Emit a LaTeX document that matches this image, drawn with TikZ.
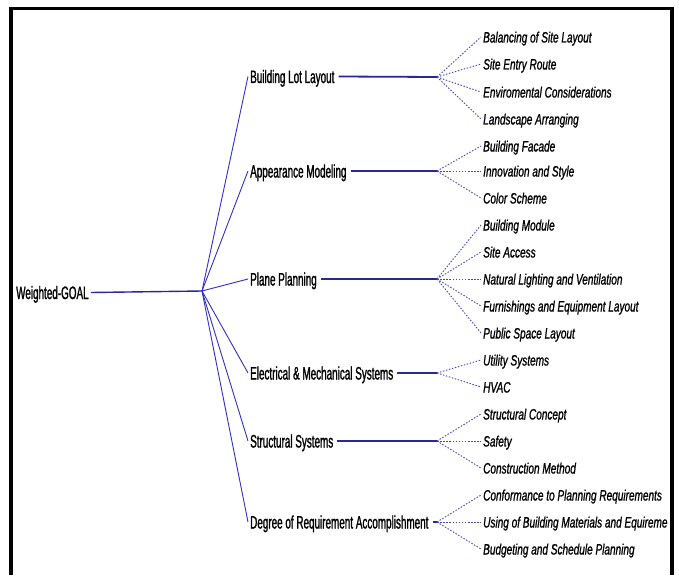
\documentclass[tikz,border=0pt]{standalone}
\usepackage{fontspec}
\newfontfamily\midfont[FakeStretch=0.55,FakeBold=1.2]{Liberation Sans}
\newfontfamily\leaffont[FakeStretch=0.67,FakeBold=1.0]{Liberation Sans}
\definecolor{hubblue}{RGB}{48,48,200}
\definecolor{barblue}{RGB}{40,40,150}
\definecolor{dotblue}{RGB}{70,70,190}
\begin{document}
\begin{tikzpicture}[x=1pt,y=-1pt,
  goalnode/.style={anchor=west,inner xsep=2pt,inner ysep=0pt,text height=13pt,text depth=0pt,font=\midfont\fontsize{18}{18}\selectfont},
  midnode/.style={anchor=west,inner xsep=2pt,inner ysep=0pt,text height=13pt,text depth=0pt,font=\midfont\fontsize{18}{18}\selectfont},
  leafnode/.style={anchor=west,inner xsep=2pt,inner ysep=0pt,text height=11pt,text depth=0pt,font=\leaffont\itshape\fontsize{15}{15}\selectfont},
  hubline/.style={draw=hubblue,line width=0.9pt},
  barline/.style={draw=barblue,line width=1.8pt},
  dotline/.style={draw=dotblue,line width=0.9pt,dash pattern=on 1.5pt off 1.6pt}]
\useasboundingbox (0,0) rectangle (679,575);
\fill[white] (0,0) rectangle (679,575);
% nodes
\node[goalnode] (goal) at (14,292.5) {Weighted-GOAL};
\coordinate (hub) at (202,291);
\node[midnode] (m1) at (248,76.5) {Building Lot Layout};
\node[midnode] (m2) at (248,171) {Appearance Modeling};
\node[midnode] (m3) at (248,279) {Plane Planning};
\node[midnode] (m4) at (248,373) {Electrical \& Mechanical Systems};
\node[midnode] (m5) at (248,441) {Structural Systems};
\node[midnode] (m6) at (248,522) {Degree of Requirement Accomplishment};
\coordinate (s1) at (437,77);
\coordinate (s2) at (437,171);
\coordinate (s3) at (437,279);
\coordinate (s4) at (437,373);
\coordinate (s5) at (437,441);
\coordinate (s6) at (437,522);
% leaves
\node[leafnode] (l11) at (481,37) {Balancing of Site Layout};
\node[leafnode] (l12) at (481,64) {Site Entry Route};
\node[leafnode] (l13) at (481,92) {Enviromental Considerations};
\node[leafnode] (l14) at (481,119) {Landscape Arranging};
\node[leafnode] (l21) at (481,146) {Building Facade};
\node[leafnode] (l22) at (481,171) {Innovation and Style};
\node[leafnode] (l23) at (481,198) {Color Scheme};
\node[leafnode] (l31) at (481,225) {Building Module};
\node[leafnode] (l32) at (481,252) {Site Access};
\node[leafnode] (l33) at (481,279) {Natural Lighting and Ventilation};
\node[leafnode] (l34) at (481,306) {Furnishings and Equipment Layout};
\node[leafnode] (l35) at (481,333) {Public Space Layout};
\node[leafnode] (l41) at (481,360) {Utility Systems};
\node[leafnode] (l42) at (481,387) {HVAC};
\node[leafnode] (l51) at (481,414) {Structural Concept};
\node[leafnode] (l52) at (481,441) {Safety};
\node[leafnode] (l53) at (481,468) {Construction Method};
\node[leafnode] (l61) at (481,495) {Conformance to Planning Requirements};
\node[leafnode] (l62) at (481,522) {Using of Building Materials and Equireme};
\node[leafnode] (l63) at (481,549) {Budgeting and Schedule Planning};
% connectors
\draw[barline,line width=1.4pt] (goal.east) -- (hub);
\foreach \m in {m1,m2,m3,m4,m5,m6} \draw[hubline] (hub) -- (\m.west);
\foreach \m/\s in {m1/s1,m2/s2,m3/s3,m4/s4,m5/s5,m6/s6} \draw[barline] ([xshift=2pt]\m.east) -- (\s);
\foreach \l in {l11,l12,l13,l14} \draw[dotline] (s1) -- (\l.west);
\foreach \l in {l21,l22,l23} \draw[dotline] (s2) -- (\l.west);
\foreach \l in {l31,l32,l33,l34,l35} \draw[dotline] (s3) -- (\l.west);
\foreach \l in {l41,l42} \draw[dotline] (s4) -- (\l.west);
\foreach \l in {l51,l52,l53} \draw[dotline] (s5) -- (\l.west);
\foreach \l in {l61,l62,l63} \draw[dotline] (s6) -- (\l.west);
% frame
\fill[white] (674,0) rectangle (679,575);
\draw[black,line width=3.6pt,miter limit=10] (11,575) |- (672,8.5) -- (672,575);
\end{tikzpicture}
\end{document}
